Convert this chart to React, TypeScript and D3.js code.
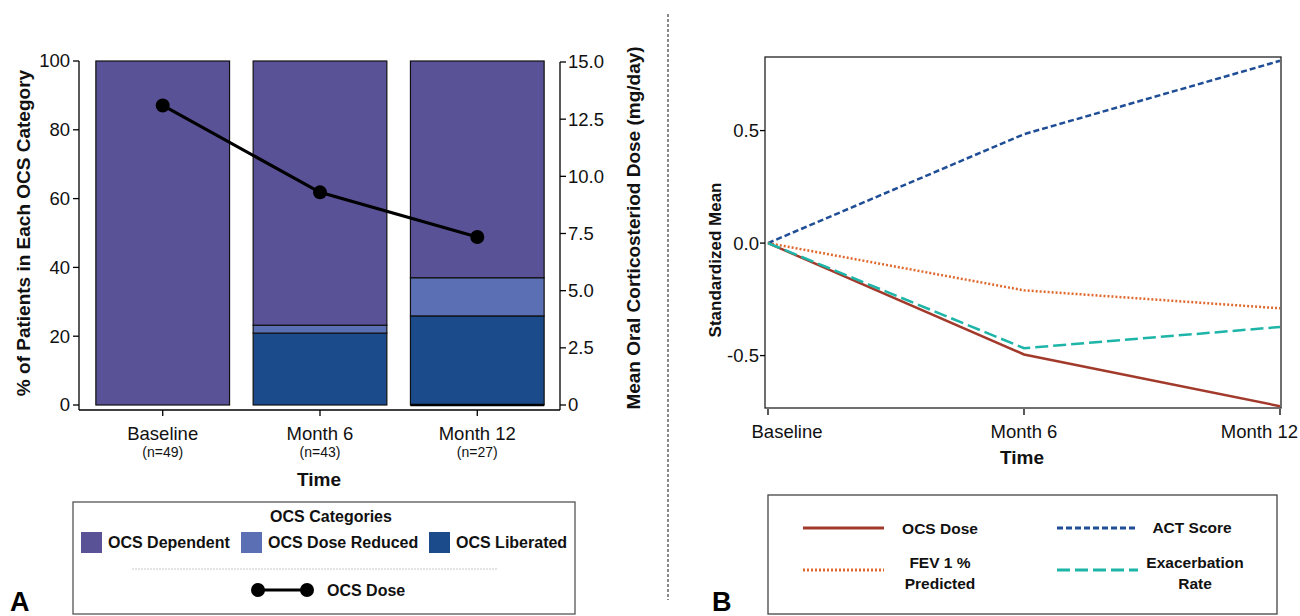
import React from "react";
import * as d3 from "d3";

const timepoints = ["Baseline", "Month 6", "Month 12"];
const nLabels = ["(n=49)", "(n=43)", "(n=27)"];
const pctLiberated = [0, 20.9, 25.9];
const pctReduced = [0, 2.3, 11.1];
const pctDependent = [100, 76.8, 63.0];
const ocsDoseMg = [13.1, 9.3, 7.35];

const pctTicks = [0, 20, 40, 60, 80, 100];
const doseTicks = [0, 2.5, 5.0, 7.5, 10.0, 12.5, 15.0];
const stdTicks = [-0.5, 0.0, 0.5];

const ocsDoseStd = [0, -0.495, -0.725];
const actScore = [0, 0.484, 0.81];
const fev1Pred = [0, -0.21, -0.29];
const exacRate = [0, -0.467, -0.373];

const FONT = "'Liberation Sans', Arial, sans-serif";
const C_DEP = "#5A5296";
const C_RED = "#5B70B4";
const C_LIB = "#1B4B8A";
const TICK = 18.5;
const LEG = 16;

export default function App() {
  // Panel A
  const xA = d3.scaleBand<string>().domain(timepoints).range([88, 552]).paddingInner(0.15).paddingOuter(0.05);
  const yPct = d3.scaleLinear().domain([0, 100]).range([405, 61]);
  const yDose = d3.scaleLinear().domain([0, 15]).range([405, 62]);
  const cxA = (t: string) => (xA(t) as number) + xA.bandwidth() / 2;

  const stacks = timepoints.map((t, i) => {
    const segs = [
      { key: "lib", v: pctLiberated[i], c: C_LIB },
      { key: "red", v: pctReduced[i], c: C_RED },
      { key: "dep", v: pctDependent[i], c: C_DEP },
    ];
    let acc = 0;
    return segs.map((s) => {
      const y0 = acc;
      acc += s.v;
      return { ...s, y0, y1: acc, t };
    });
  });
  const doseLine = d3.line<number>().x((_, i) => cxA(timepoints[i])).y((d) => yDose(d));

  // Panel B
  const xB = d3.scalePoint<string>().domain(timepoints).range([768, 1280]);
  const yStd = d3.scaleLinear().domain([-0.733, 0.827]).range([408, 57]);
  const lineB = d3.line<number>().x((_, i) => xB(timepoints[i]) as number).y((d) => yStd(d));

  const seriesB = [
    { name: "OCS Dose", data: ocsDoseStd, color: "#A23A2C", dash: "", w: 2.5 },
    { name: "ACT Score", data: actScore, color: "#1F4E97", dash: "6,3", w: 2.5 },
    { name: "FEV1", data: fev1Pred, color: "#E0692E", dash: "2,2", w: 2.5 },
    { name: "Exac", data: exacRate, color: "#1DB5A8", dash: "13,5", w: 2.5 },
  ];

  return (
    <svg width={1300} height={616} style={{ position: "absolute", left: 0, top: 0, background: "#fff" }} fontFamily={FONT}>
      <rect x={0} y={0} width={1300} height={616} fill="#fff" />
      {/* ========== Panel A ========== */}
      {stacks.map((segs, i) =>
        segs.filter((s) => s.v > 0).map((s) => (
          <rect key={`${i}-${s.key}`} x={xA(s.t)} width={xA.bandwidth()} y={yPct(s.y1)} height={yPct(s.y0) - yPct(s.y1)}
            fill={s.c} stroke="#111" strokeWidth={1.2} />
        ))
      )}
      {/* zero-height segment edge on Month 12 */}
      <line x1={xA("Month 12")} x2={(xA("Month 12") as number) + xA.bandwidth()} y1={yPct(0)} y2={yPct(0)} stroke="#000" strokeWidth={2.5} />
      {/* left axis */}
      <line x1={79} x2={79} y1={yPct(100)} y2={410} stroke="#000" strokeWidth={1.3} />
      {pctTicks.map((t) => (
        <g key={`pt${t}`}>
          <line x1={73} x2={79} y1={yPct(t)} y2={yPct(t)} stroke="#000" strokeWidth={1.3} />
          <text x={70} y={yPct(t)} dy="0.35em" textAnchor="end" fontSize={TICK} fill="#111">{t}</text>
        </g>
      ))}
      {/* right axis */}
      <line x1={560} x2={560} y1={yDose(15)} y2={410} stroke="#000" strokeWidth={1.3} />
      {doseTicks.map((t) => (
        <g key={`dt${t}`}>
          <line x1={560} x2={566} y1={yDose(t)} y2={yDose(t)} stroke="#000" strokeWidth={1.3} />
          <text x={568} y={yDose(t)} dy="0.35em" textAnchor="start" fontSize={TICK} fill="#111">{t === 0 ? "0" : t.toFixed(1)}</text>
        </g>
      ))}
      {/* bottom axis */}
      <line x1={79} x2={560} y1={410} y2={410} stroke="#000" strokeWidth={1.3} />
      {timepoints.map((t, i) => (
        <g key={`xa${t}`}>
          <line x1={cxA(t)} x2={cxA(t)} y1={410} y2={416} stroke="#000" strokeWidth={1.3} />
          <text x={cxA(t)} y={440} textAnchor="middle" fontSize={TICK} fill="#111">{t}</text>
          <text x={cxA(t)} y={457} textAnchor="middle" fontSize={14} fill="#111">{nLabels[i]}</text>
        </g>
      ))}
      <text x={319} y={486} textAnchor="middle" fontSize={19} fontWeight="bold" fill="#111">Time</text>
      <text transform="translate(30,233) rotate(-90)" textAnchor="middle" fontSize={19} fontWeight="bold" fill="#111">% of Patients in Each OCS Category</text>
      <text transform="translate(640,228) rotate(-90)" textAnchor="middle" fontSize={19} fontWeight="bold" fill="#111">Mean Oral Corticosteriod Dose (mg/day)</text>
      {/* dose line */}
      <path d={doseLine(ocsDoseMg) as string} fill="none" stroke="#000" strokeWidth={3.2} />
      {ocsDoseMg.map((d, i) => (
        <circle key={`dc${i}`} cx={cxA(timepoints[i])} cy={yDose(d)} r={7} fill="#000" />
      ))}
      {/* legend A */}
      <rect x={73} y={502} width={502} height={112} fill="#fff" stroke="#555" strokeWidth={1.3} />
      <text x={331} y={522} textAnchor="middle" fontSize={LEG} fontWeight="bold" fill="#111">OCS Categories</text>
      {[
        { label: "OCS Dependent", c: C_DEP, x: 81 },
        { label: "OCS Dose Reduced", c: C_RED, x: 241 },
        { label: "OCS Liberated", c: C_LIB, x: 429 },
      ].map((it) => (
        <g key={it.label}>
          <rect x={it.x} y={532} width={21} height={21} fill={it.c} />
          <text x={it.x + 27} y={548} fontSize={LEG} fontWeight="bold" fill="#111">{it.label}</text>
        </g>
      ))}
      <line x1={132} x2={497} y1={569} y2={569} stroke="#bbb" strokeWidth={0.8} strokeDasharray="2,1" />
      <line x1={258} x2={307} y1={590} y2={590} stroke="#000" strokeWidth={3} />
      <circle cx={258} cy={590} r={7} fill="#000" />
      <circle cx={307} cy={590} r={7} fill="#000" />
      <text x={327} y={596} fontSize={LEG} fontWeight="bold" fill="#111">OCS Dose</text>
      <text x={10} y={611} fontSize={27} fontWeight="bold" fill="#000">A</text>

      {/* divider */}
      <line x1={668} x2={668} y1={14} y2={600} stroke="#888" strokeWidth={2} strokeDasharray="3,2" />

      {/* ========== Panel B ========== */}
      <rect x={765} y={57} width={516} height={351} fill="none" stroke="#222" strokeWidth={1.3} />
      {stdTicks.map((t) => (
        <g key={`st${t}`}>
          <line x1={760} x2={765} y1={yStd(t)} y2={yStd(t)} stroke="#000" strokeWidth={1.3} />
          <text x={759} y={yStd(t)} dy="0.35em" textAnchor="end" fontSize={TICK} fill="#111">{t === 0 ? "0.0" : t.toFixed(1)}</text>
        </g>
      ))}
      {timepoints.map((t, i) => (
        <g key={`xb${t}`}>
          <line x1={xB(t)} x2={xB(t)} y1={409} y2={415} stroke="#000" strokeWidth={1.3} />
          <text x={i === 2 ? 1298 : (xB(t) as number) + (i === 0 ? 19 : 0)} y={438} textAnchor={i === 2 ? "end" : "middle"} fontSize={TICK} fill="#111">{t}</text>
        </g>
      ))}
      <text x={1022} y={464} textAnchor="middle" fontSize={19} fontWeight="bold" fill="#111">Time</text>
      <text transform="translate(721,260) rotate(-90)" textAnchor="middle" fontSize={17} fontWeight="bold" fill="#111">Standardized Mean</text>
      {seriesB.map((s) => (
        <path key={s.name} d={lineB(s.data) as string} fill="none" stroke={s.color} strokeWidth={s.w} strokeDasharray={s.dash || undefined} />
      ))}
      {/* legend B */}
      <rect x={768} y={495} width={509} height={119} fill="#fff" stroke="#444" strokeWidth={1.3} />
      <line x1={803} x2={884} y1={528} y2={528} stroke={seriesB[0].color} strokeWidth={3} />
      <text x={940} y={534} textAnchor="middle" fontSize={15.5} fontWeight="bold" fill="#111">OCS Dose</text>
      <line x1={1057} x2={1138} y1={528} y2={528} stroke={seriesB[1].color} strokeWidth={3} strokeDasharray="6,3" />
      <text x={1192} y={533} textAnchor="middle" fontSize={15.5} fontWeight="bold" fill="#111">ACT Score</text>
      <line x1={803} x2={884} y1={570} y2={570} stroke={seriesB[2].color} strokeWidth={3} strokeDasharray="2,2" />
      <text x={940} y={568} textAnchor="middle" fontSize={15.5} fontWeight="bold" fill="#111">FEV 1 %</text>
      <text x={940} y={589} textAnchor="middle" fontSize={15.5} fontWeight="bold" fill="#111">Predicted</text>
      <line x1={1057} x2={1138} y1={570} y2={570} stroke={seriesB[3].color} strokeWidth={3} strokeDasharray="13,5" />
      <text x={1195} y={568} textAnchor="middle" fontSize={15.5} fontWeight="bold" fill="#111">Exacerbation</text>
      <text x={1195} y={589} textAnchor="middle" fontSize={15.5} fontWeight="bold" fill="#111">Rate</text>
      <text x={712} y={611} fontSize={27} fontWeight="bold" fill="#000">B</text>
    </svg>
  );
}
